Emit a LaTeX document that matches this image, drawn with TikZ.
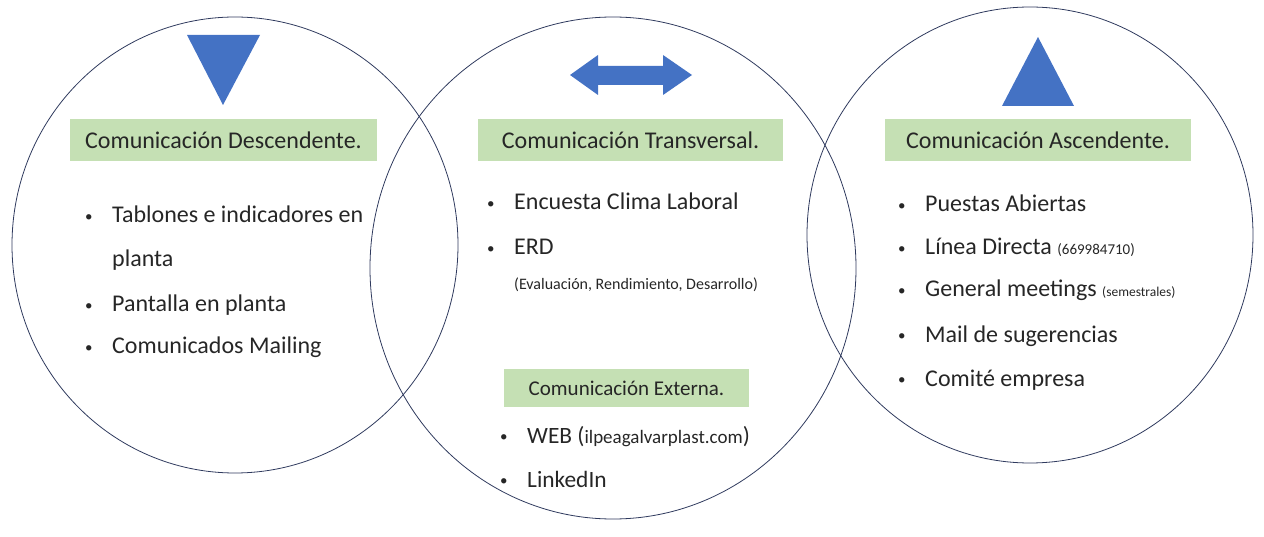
\documentclass[tikz,border=0pt]{standalone}
\usepackage{fontspec}
\setmainfont{Carlito}
\usepackage{tikz}
\definecolor{venngreen}{RGB}{197,224,180}
\definecolor{vennblue}{RGB}{68,114,196}
\definecolor{vennline}{RGB}{47,58,94}
\definecolor{venntext}{RGB}{38,38,38}
\newcommand{\vennbullet}{\makebox[27pt][l]{\raisebox{1.5pt}{\fontsize{15}{15}\selectfont\textbullet}}}

\begin{document}
\begin{tikzpicture}
              [x=1pt,y=-1pt,
                every node/.style={inner sep=0pt,text=venntext,font=\fontsize{24}{28}\selectfont},
                ring/.style={draw=vennline,line width=0.8pt},
                head/.style={fill=venngreen,minimum height=42pt},
                item/.style={anchor=base west},
                small/.style={font=\fontsize{16}{18}\selectfont}]
              \useasboundingbox (0,0) rectangle (1264,537);
              \draw[ring] (235,245) ellipse [x radius=223,y radius=228];
              \draw[ring] (613,268) ellipse [x radius=243,y radius=251];
              \draw[ring] (1030,235) ellipse [x radius=223,y radius=228];
              % arrows
              \fill[vennblue] (187,35) -- (260,35) -- (223,105) -- cycle;
              \fill[vennblue] (570,75) -- (598,55) -- (598,66) -- (663,66) -- (663,55) -- (692,75)
                -- (663,95) -- (663,85) -- (598,85) -- (598,95) -- cycle;
              \fill[vennblue] (1002,106) -- (1074,106) -- (1038,37) -- cycle;
              % headings
              \node (n0) [head,minimum width=307pt] at (223.5,140) {Comunicación Descendente.};
              \node (n1) [head,minimum width=305pt] at (630.5,140) {Comunicación Transversal.};
              \node (n2) [head,minimum width=306pt] at (1038,140) {Comunicación Ascendente.};
              \node (n3) [head,minimum width=245pt,minimum height=38pt,font=\fontsize{21}{24}\selectfont] at (626.5,388) {Comunicación Externa.};
              % lists
              \foreach \y/\t [count=\i] in {223/Tablones e indicadores en,312/Pantalla en planta,354/Comunicados Mailing}
              \node (d\i) [item] at (85,\y) {\vennbullet\t};
              \node (d0) [item] at (112,267) {planta};
              \foreach \y/\t [count=\i] in {210/Encuesta Clima Laboral,255/ERD}
              \node (t\i) [item] at (487,\y) {\vennbullet\t};
              \node (t0) [item,small] at (514,290) {(Evaluación, Rendimiento, Desarrollo)};
              \foreach \y/\t [count=\i] in {443/{WEB ({\fontsize{19}{22}\selectfont ilpeagalvarplast.com})},487/LinkedIn}
              \node (e\i) [item,font=\fontsize{23.4}{26}\selectfont] at (500,\y) {\vennbullet\t};
              \foreach \y/\t [count=\i] in {212/Puestas Abiertas,255/{Línea Directa {\fontsize{15}{16}\selectfont (669984710)}},
                297/{General meetings {\fontsize{13.5}{16}\selectfont (semestrales)}},342/Mail de sugerencias,386/Comité empresa}
              \node (a\i) [item] at (898,\y) {\vennbullet\t};
            \end{tikzpicture}
\end{document}
